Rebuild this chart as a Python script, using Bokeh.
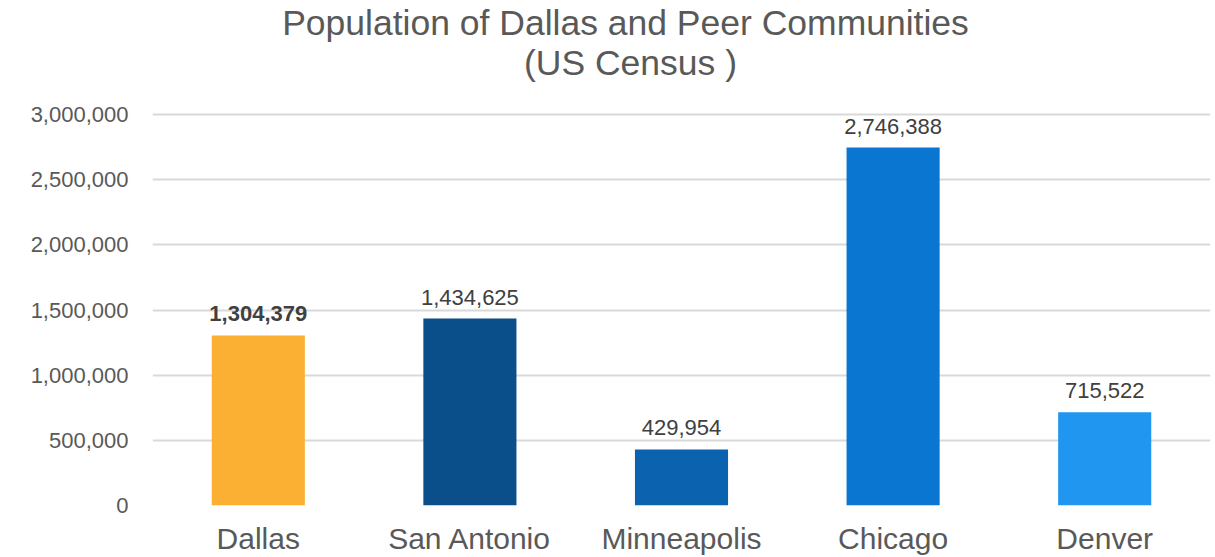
from bokeh.plotting import figure
from bokeh.models import ColumnDataSource, FactorRange, Range1d, NumeralTickFormatter, FixedTicker, Label
from bokeh.core.properties import value
from bokeh.embed import file_html
from bokeh.resources import INLINE

cities = ["Dallas", "San Antonio", "Minneapolis", "Chicago", "Denver"]
population = [1304379, 1434625, 429954, 2746388, 715522]
colors = ["#FBAF33", "#0A4F8A", "#0B63B0", "#0A76D1", "#2196F0"]
y_ticks = [0, 500000, 1000000, 1500000, 2000000, 2500000, 3000000]
title_lines = ["Population of Dallas and Peer Communities", "(US Census )"]

labels = [f"{v:,}" for v in population]
weights = ["bold"] + ["normal"] * (len(cities) - 1)
src = ColumnDataSource(dict(x=cities, y=population, c=colors, lab=labels, w=weights))

# frame reaches the top of the canvas so the title can sit inside it;
# the 3,000,000 gridline lands 114 px from the top, 0 at 505 px
frame_h = 505
y_end = 3000000 * frame_h / 391

p = figure(width=1215, height=557, title=None, x_range=FactorRange(*cities, range_padding=0),
           y_range=Range1d(0, y_end), output_backend="svg", toolbar_location=None,
           min_border_left=152, min_border_right=5, min_border_top=0, min_border_bottom=52)
p.outline_line_color = None
p.background_fill_color = "white"
p.border_fill_color = "white"

p.vbar(x="x", top="y", width=0.44, fill_color="c", line_color=None, source=src)

p.text(x="x", y="y", text="lab", source=src, text_align="center", text_baseline="bottom",
       y_offset=-14, text_font_size="22px", text_color="#404040", text_font_style="w",
       text_font=value("Liberation Sans"))

p.xgrid.grid_line_color = None
p.ygrid.grid_line_color = "#D9D9D9"
p.ygrid.grid_line_width = 2
p.yaxis.ticker = FixedTicker(ticks=y_ticks)
p.yaxis.formatter = NumeralTickFormatter(format="0,0")
for ax in (p.xaxis[0], p.yaxis[0]):
    ax.axis_line_color = None
    ax.major_tick_line_color = None
    ax.minor_tick_line_color = None
    ax.major_tick_out = 0
    ax.major_tick_in = 0
    ax.major_label_text_font = "Liberation Sans"
    ax.major_label_text_color = "#595959"
p.yaxis.major_label_standoff = 24
p.yaxis.major_label_text_font_size = "22px"
p.xaxis.major_label_text_font_size = "30px"
p.xaxis.major_label_standoff = 16

for t, xx, yy in zip(title_lines, [625, 630], [22, 62]):
    p.add_layout(Label(x=xx, y=yy, x_units="canvas", y_units="canvas", text=t,
                       text_align="center", text_baseline="middle", text_font_size="35.5px",
                       text_font="Liberation Sans", text_color="#595959"))

open("out.html", "w").write(file_html(p, INLINE))
